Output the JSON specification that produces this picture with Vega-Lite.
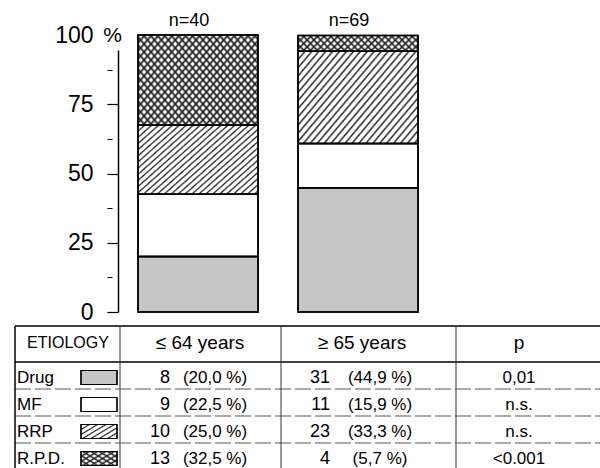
{
  "$schema": "https://vega.github.io/schema/vega-lite/v6.json",
  "width": 482,
  "height": 433,
  "autosize": {"type": "none"},
  "padding": {"left": 118, "top": 35, "right": 0, "bottom": 0},
  "background": "white",
  "config": {"view": {"stroke": null}, "font": "Liberation Sans"},
  "datasets": {
    "bars": [
      {"group": "n=40", "etiology": "Drug", "order": 1, "pct": 20.0},
      {"group": "n=40", "etiology": "MF", "order": 2, "pct": 22.5},
      {"group": "n=40", "etiology": "RRP", "order": 3, "pct": 25.0},
      {"group": "n=40", "etiology": "R.P.D.", "order": 4, "pct": 32.5},
      {"group": "n=69", "etiology": "Drug", "order": 1, "pct": 44.9},
      {"group": "n=69", "etiology": "MF", "order": 2, "pct": 15.9},
      {"group": "n=69", "etiology": "RRP", "order": 3, "pct": 33.3},
      {"group": "n=69", "etiology": "R.P.D.", "order": 4, "pct": 5.7}
    ],
    "table": [
      {"row": 1, "etiology": "Drug", "n64": "8", "pct64": "(20,0 %)", "n65": "31", "pct65": "(44,9 %)", "p": "0,01"},
      {"row": 2, "etiology": "MF", "n64": "9", "pct64": "(22,5 %)", "n65": "11", "pct65": "(15,9 %)", "p": "n.s."},
      {"row": 3, "etiology": "RRP", "n64": "10", "pct64": "(25,0 %)", "n65": "23", "pct65": "(33,3 %)", "p": "n.s."},
      {"row": 4, "etiology": "R.P.D.", "n64": "13", "pct64": "(32,5 %)", "n65": "4", "pct65": "(5,7 %)", "p": "<0.001"}
    ],
    "header": [
      {"col": 1, "text": "ETIOLOGY"},
      {"col": 2, "text": "≤ 64 years"},
      {"col": 3, "text": "≥ 65 years"},
      {"col": 4, "text": "p"}
    ]
  },
  "layer": [
    {
      "data": {"name": "bars"},
      "layer": [
        {
          "mark": {"type": "bar", "stroke": "black", "strokeWidth": 1.5},
          "encoding": {
            "x": {
              "field": "group", "type": "nominal",
              "scale": {"range": [20, 300], "paddingInner": 0.25, "paddingOuter": 0},
              "axis": {"orient": "top", "title": null, "domain": false, "ticks": false, "labelAngle": 0,
                       "labelFontSize": 18, "labelColor": "black", "labelPadding": 6, "labelOffset": -9}
            },
            "y": {
              "field": "pct", "type": "quantitative", "stack": "zero",
              "scale": {"domain": [0, 100], "range": [277, 0], "nice": false},
              "axis": {
                "values": [0, 12.5, 25, 37.5, 50, 62.5, 75, 87.5, 100],
                "labelExpr": "datum.value % 25 === 0 ? datum.label : ''",
                "grid": false,
                "domainColor": "black", "domainWidth": 1.5, "domainDash": [262, 1000],
                "tickColor": "black", "tickWidth": 1.2, "tickSize": 11,
                "tickDash": {"condition": {"test": "datum.value % 25 !== 0", "value": [0, 6, 5, 20]}, "value": []},
                "tickOpacity": {"condition": {"test": "datum.value === 100", "value": 0}, "value": 1},
                "labelFontSize": 23, "labelColor": "black", "labelPadding": 14,
                "title": "%", "titleAngle": 0, "titleX": -6, "titleY": 0, "titleAlign": "center",
                "titleBaseline": "middle", "titleFontSize": 21, "titleFontWeight": "normal", "titleColor": "black"
              }
            },
            "detail": {"field": "etiology"},
            "order": {"field": "order", "type": "quantitative"},
            "fill": {
              "condition": [
                {"test": "datum.etiology === 'RRP'", "value": {"gradient": "linear", "x1": 0, "y1": 0, "x2": 1.16, "y2": 0.754, "stops": [
                  {"offset": 0, "color": "#222"}, {"offset": 0.01, "color": "#fff"}, {"offset": 0.026, "color": "#fff"},
                  {"offset": 0.035, "color": "#222"}, {"offset": 0.045, "color": "#fff"}, {"offset": 0.061, "color": "#fff"},
                  {"offset": 0.07, "color": "#222"}, {"offset": 0.08, "color": "#fff"}, {"offset": 0.096, "color": "#fff"},
                  {"offset": 0.105, "color": "#222"}, {"offset": 0.115, "color": "#fff"}, {"offset": 0.131, "color": "#fff"},
                  {"offset": 0.14, "color": "#222"}, {"offset": 0.15, "color": "#fff"}, {"offset": 0.166, "color": "#fff"},
                  {"offset": 0.175, "color": "#222"}, {"offset": 0.185, "color": "#fff"}, {"offset": 0.201, "color": "#fff"},
                  {"offset": 0.21, "color": "#222"}, {"offset": 0.22, "color": "#fff"}, {"offset": 0.236, "color": "#fff"},
                  {"offset": 0.245, "color": "#222"}, {"offset": 0.255, "color": "#fff"}, {"offset": 0.271, "color": "#fff"},
                  {"offset": 0.28, "color": "#222"}, {"offset": 0.29, "color": "#fff"}, {"offset": 0.306, "color": "#fff"},
                  {"offset": 0.315, "color": "#222"}, {"offset": 0.325, "color": "#fff"}, {"offset": 0.341, "color": "#fff"},
                  {"offset": 0.35, "color": "#222"}, {"offset": 0.36, "color": "#fff"}, {"offset": 0.376, "color": "#fff"},
                  {"offset": 0.385, "color": "#222"}, {"offset": 0.395, "color": "#fff"}, {"offset": 0.411, "color": "#fff"},
                  {"offset": 0.42, "color": "#222"}, {"offset": 0.43, "color": "#fff"}, {"offset": 0.446, "color": "#fff"},
                  {"offset": 0.455, "color": "#222"}, {"offset": 0.465, "color": "#fff"}, {"offset": 0.481, "color": "#fff"},
                  {"offset": 0.49, "color": "#222"}, {"offset": 0.5, "color": "#fff"}, {"offset": 0.516, "color": "#fff"},
                  {"offset": 0.525, "color": "#222"}, {"offset": 0.535, "color": "#fff"}, {"offset": 0.551, "color": "#fff"},
                  {"offset": 0.56, "color": "#222"}, {"offset": 0.57, "color": "#fff"}, {"offset": 0.586, "color": "#fff"},
                  {"offset": 0.595, "color": "#222"}, {"offset": 0.605, "color": "#fff"}, {"offset": 0.621, "color": "#fff"},
                  {"offset": 0.63, "color": "#222"}, {"offset": 0.64, "color": "#fff"}, {"offset": 0.656, "color": "#fff"},
                  {"offset": 0.665, "color": "#222"}, {"offset": 0.675, "color": "#fff"}, {"offset": 0.691, "color": "#fff"},
                  {"offset": 0.7, "color": "#222"}, {"offset": 0.71, "color": "#fff"}, {"offset": 0.726, "color": "#fff"},
                  {"offset": 0.735, "color": "#222"}, {"offset": 0.745, "color": "#fff"}, {"offset": 0.761, "color": "#fff"},
                  {"offset": 0.77, "color": "#222"}, {"offset": 0.78, "color": "#fff"}, {"offset": 0.796, "color": "#fff"},
                  {"offset": 0.805, "color": "#222"}, {"offset": 0.815, "color": "#fff"}, {"offset": 0.831, "color": "#fff"},
                  {"offset": 0.84, "color": "#222"}, {"offset": 0.85, "color": "#fff"}, {"offset": 0.866, "color": "#fff"},
                  {"offset": 0.875, "color": "#222"}, {"offset": 0.885, "color": "#fff"}, {"offset": 0.901, "color": "#fff"},
                  {"offset": 0.91, "color": "#222"}, {"offset": 0.92, "color": "#fff"}, {"offset": 0.936, "color": "#fff"},
                  {"offset": 0.945, "color": "#222"}, {"offset": 0.955, "color": "#fff"}, {"offset": 0.971, "color": "#fff"},
                  {"offset": 0.98, "color": "#222"}, {"offset": 0.99, "color": "#fff"}, {"offset": 1, "color": "#fff"}
                ]}},
                {"test": "datum.etiology === 'R.P.D.' && datum.group === 'n=40'", "value": {"gradient": "linear", "x1": 0, "y1": 0, "x2": 1.16, "y2": 0.754, "stops": [
                  {"offset": 0, "color": "#222"}, {"offset": 0.012, "color": "#fff"}, {"offset": 0.023, "color": "#fff"},
                  {"offset": 0.035, "color": "#222"}, {"offset": 0.047, "color": "#fff"}, {"offset": 0.058, "color": "#fff"},
                  {"offset": 0.07, "color": "#222"}, {"offset": 0.082, "color": "#fff"}, {"offset": 0.093, "color": "#fff"},
                  {"offset": 0.105, "color": "#222"}, {"offset": 0.117, "color": "#fff"}, {"offset": 0.128, "color": "#fff"},
                  {"offset": 0.14, "color": "#222"}, {"offset": 0.152, "color": "#fff"}, {"offset": 0.163, "color": "#fff"},
                  {"offset": 0.175, "color": "#222"}, {"offset": 0.187, "color": "#fff"}, {"offset": 0.198, "color": "#fff"},
                  {"offset": 0.21, "color": "#222"}, {"offset": 0.222, "color": "#fff"}, {"offset": 0.233, "color": "#fff"},
                  {"offset": 0.245, "color": "#222"}, {"offset": 0.257, "color": "#fff"}, {"offset": 0.268, "color": "#fff"},
                  {"offset": 0.28, "color": "#222"}, {"offset": 0.292, "color": "#fff"}, {"offset": 0.303, "color": "#fff"},
                  {"offset": 0.315, "color": "#222"}, {"offset": 0.327, "color": "#fff"}, {"offset": 0.338, "color": "#fff"},
                  {"offset": 0.35, "color": "#222"}, {"offset": 0.362, "color": "#fff"}, {"offset": 0.373, "color": "#fff"},
                  {"offset": 0.385, "color": "#222"}, {"offset": 0.397, "color": "#fff"}, {"offset": 0.408, "color": "#fff"},
                  {"offset": 0.42, "color": "#222"}, {"offset": 0.432, "color": "#fff"}, {"offset": 0.443, "color": "#fff"},
                  {"offset": 0.455, "color": "#222"}, {"offset": 0.467, "color": "#fff"}, {"offset": 0.478, "color": "#fff"},
                  {"offset": 0.49, "color": "#222"}, {"offset": 0.502, "color": "#fff"}, {"offset": 0.513, "color": "#fff"},
                  {"offset": 0.525, "color": "#222"}, {"offset": 0.537, "color": "#fff"}, {"offset": 0.548, "color": "#fff"},
                  {"offset": 0.56, "color": "#222"}, {"offset": 0.572, "color": "#fff"}, {"offset": 0.583, "color": "#fff"},
                  {"offset": 0.595, "color": "#222"}, {"offset": 0.607, "color": "#fff"}, {"offset": 0.618, "color": "#fff"},
                  {"offset": 0.63, "color": "#222"}, {"offset": 0.642, "color": "#fff"}, {"offset": 0.653, "color": "#fff"},
                  {"offset": 0.665, "color": "#222"}, {"offset": 0.677, "color": "#fff"}, {"offset": 0.688, "color": "#fff"},
                  {"offset": 0.7, "color": "#222"}, {"offset": 0.712, "color": "#fff"}, {"offset": 0.723, "color": "#fff"},
                  {"offset": 0.735, "color": "#222"}, {"offset": 0.747, "color": "#fff"}, {"offset": 0.758, "color": "#fff"},
                  {"offset": 0.77, "color": "#222"}, {"offset": 0.782, "color": "#fff"}, {"offset": 0.793, "color": "#fff"},
                  {"offset": 0.805, "color": "#222"}, {"offset": 0.817, "color": "#fff"}, {"offset": 0.828, "color": "#fff"},
                  {"offset": 0.84, "color": "#222"}, {"offset": 0.852, "color": "#fff"}, {"offset": 0.863, "color": "#fff"},
                  {"offset": 0.875, "color": "#222"}, {"offset": 0.887, "color": "#fff"}, {"offset": 0.898, "color": "#fff"},
                  {"offset": 0.91, "color": "#222"}, {"offset": 0.922, "color": "#fff"}, {"offset": 0.933, "color": "#fff"},
                  {"offset": 0.945, "color": "#222"}, {"offset": 0.957, "color": "#fff"}, {"offset": 0.968, "color": "#fff"},
                  {"offset": 0.98, "color": "#222"}, {"offset": 0.992, "color": "#fff"}, {"offset": 1, "color": "#fff"}
                ]}},
                {"test": "datum.etiology === 'R.P.D.'", "value": {"gradient": "linear", "x1": 0, "y1": 0, "x2": 1.111, "y2": 0.1445, "stops": [
                  {"offset": 0, "color": "#222"}, {"offset": 0.017, "color": "#fff"}, {"offset": 0.033, "color": "#fff"},
                  {"offset": 0.05, "color": "#222"}, {"offset": 0.067, "color": "#fff"}, {"offset": 0.083, "color": "#fff"},
                  {"offset": 0.1, "color": "#222"}, {"offset": 0.117, "color": "#fff"}, {"offset": 0.133, "color": "#fff"},
                  {"offset": 0.15, "color": "#222"}, {"offset": 0.167, "color": "#fff"}, {"offset": 0.183, "color": "#fff"},
                  {"offset": 0.2, "color": "#222"}, {"offset": 0.217, "color": "#fff"}, {"offset": 0.233, "color": "#fff"},
                  {"offset": 0.25, "color": "#222"}, {"offset": 0.267, "color": "#fff"}, {"offset": 0.283, "color": "#fff"},
                  {"offset": 0.3, "color": "#222"}, {"offset": 0.317, "color": "#fff"}, {"offset": 0.333, "color": "#fff"},
                  {"offset": 0.35, "color": "#222"}, {"offset": 0.367, "color": "#fff"}, {"offset": 0.383, "color": "#fff"},
                  {"offset": 0.4, "color": "#222"}, {"offset": 0.417, "color": "#fff"}, {"offset": 0.433, "color": "#fff"},
                  {"offset": 0.45, "color": "#222"}, {"offset": 0.467, "color": "#fff"}, {"offset": 0.483, "color": "#fff"},
                  {"offset": 0.5, "color": "#222"}, {"offset": 0.517, "color": "#fff"}, {"offset": 0.533, "color": "#fff"},
                  {"offset": 0.55, "color": "#222"}, {"offset": 0.567, "color": "#fff"}, {"offset": 0.583, "color": "#fff"},
                  {"offset": 0.6, "color": "#222"}, {"offset": 0.617, "color": "#fff"}, {"offset": 0.633, "color": "#fff"},
                  {"offset": 0.65, "color": "#222"}, {"offset": 0.667, "color": "#fff"}, {"offset": 0.683, "color": "#fff"},
                  {"offset": 0.7, "color": "#222"}, {"offset": 0.717, "color": "#fff"}, {"offset": 0.733, "color": "#fff"},
                  {"offset": 0.75, "color": "#222"}, {"offset": 0.767, "color": "#fff"}, {"offset": 0.783, "color": "#fff"},
                  {"offset": 0.8, "color": "#222"}, {"offset": 0.817, "color": "#fff"}, {"offset": 0.833, "color": "#fff"},
                  {"offset": 0.85, "color": "#222"}, {"offset": 0.867, "color": "#fff"}, {"offset": 0.883, "color": "#fff"},
                  {"offset": 0.9, "color": "#222"}, {"offset": 0.917, "color": "#fff"}, {"offset": 0.933, "color": "#fff"},
                  {"offset": 0.95, "color": "#222"}, {"offset": 0.967, "color": "#fff"}, {"offset": 0.983, "color": "#fff"},
                  {"offset": 1, "color": "#222"}
                ]}},
                {"test": "datum.etiology === 'MF'", "value": "#ffffff"}
              ],
              "value": "#c6c6c6"
            }
          }
        },
        {
          "mark": {"type": "bar", "stroke": "black", "strokeWidth": 1.5},
          "encoding": {
            "x": {"field": "group", "type": "nominal"},
            "y": {"field": "pct", "type": "quantitative", "stack": "zero"},
            "detail": {"field": "etiology"},
            "order": {"field": "order", "type": "quantitative"},
            "fill": {
              "condition": [
                {"test": "datum.etiology === 'R.P.D.' && datum.group === 'n=40'", "value": {"gradient": "linear", "x1": 0, "y1": 1, "x2": 1.16, "y2": 0.246, "stops": [
                  {"offset": 0, "color": "#222"}, {"offset": 0.012, "color": "rgba(34,34,34,0)"}, {"offset": 0.023, "color": "rgba(34,34,34,0)"},
                  {"offset": 0.035, "color": "#222"}, {"offset": 0.047, "color": "rgba(34,34,34,0)"}, {"offset": 0.058, "color": "rgba(34,34,34,0)"},
                  {"offset": 0.07, "color": "#222"}, {"offset": 0.082, "color": "rgba(34,34,34,0)"}, {"offset": 0.093, "color": "rgba(34,34,34,0)"},
                  {"offset": 0.105, "color": "#222"}, {"offset": 0.117, "color": "rgba(34,34,34,0)"}, {"offset": 0.128, "color": "rgba(34,34,34,0)"},
                  {"offset": 0.14, "color": "#222"}, {"offset": 0.152, "color": "rgba(34,34,34,0)"}, {"offset": 0.163, "color": "rgba(34,34,34,0)"},
                  {"offset": 0.175, "color": "#222"}, {"offset": 0.187, "color": "rgba(34,34,34,0)"}, {"offset": 0.198, "color": "rgba(34,34,34,0)"},
                  {"offset": 0.21, "color": "#222"}, {"offset": 0.222, "color": "rgba(34,34,34,0)"}, {"offset": 0.233, "color": "rgba(34,34,34,0)"},
                  {"offset": 0.245, "color": "#222"}, {"offset": 0.257, "color": "rgba(34,34,34,0)"}, {"offset": 0.268, "color": "rgba(34,34,34,0)"},
                  {"offset": 0.28, "color": "#222"}, {"offset": 0.292, "color": "rgba(34,34,34,0)"}, {"offset": 0.303, "color": "rgba(34,34,34,0)"},
                  {"offset": 0.315, "color": "#222"}, {"offset": 0.327, "color": "rgba(34,34,34,0)"}, {"offset": 0.338, "color": "rgba(34,34,34,0)"},
                  {"offset": 0.35, "color": "#222"}, {"offset": 0.362, "color": "rgba(34,34,34,0)"}, {"offset": 0.373, "color": "rgba(34,34,34,0)"},
                  {"offset": 0.385, "color": "#222"}, {"offset": 0.397, "color": "rgba(34,34,34,0)"}, {"offset": 0.408, "color": "rgba(34,34,34,0)"},
                  {"offset": 0.42, "color": "#222"}, {"offset": 0.432, "color": "rgba(34,34,34,0)"}, {"offset": 0.443, "color": "rgba(34,34,34,0)"},
                  {"offset": 0.455, "color": "#222"}, {"offset": 0.467, "color": "rgba(34,34,34,0)"}, {"offset": 0.478, "color": "rgba(34,34,34,0)"},
                  {"offset": 0.49, "color": "#222"}, {"offset": 0.502, "color": "rgba(34,34,34,0)"}, {"offset": 0.513, "color": "rgba(34,34,34,0)"},
                  {"offset": 0.525, "color": "#222"}, {"offset": 0.537, "color": "rgba(34,34,34,0)"}, {"offset": 0.548, "color": "rgba(34,34,34,0)"},
                  {"offset": 0.56, "color": "#222"}, {"offset": 0.572, "color": "rgba(34,34,34,0)"}, {"offset": 0.583, "color": "rgba(34,34,34,0)"},
                  {"offset": 0.595, "color": "#222"}, {"offset": 0.607, "color": "rgba(34,34,34,0)"}, {"offset": 0.618, "color": "rgba(34,34,34,0)"},
                  {"offset": 0.63, "color": "#222"}, {"offset": 0.642, "color": "rgba(34,34,34,0)"}, {"offset": 0.653, "color": "rgba(34,34,34,0)"},
                  {"offset": 0.665, "color": "#222"}, {"offset": 0.677, "color": "rgba(34,34,34,0)"}, {"offset": 0.688, "color": "rgba(34,34,34,0)"},
                  {"offset": 0.7, "color": "#222"}, {"offset": 0.712, "color": "rgba(34,34,34,0)"}, {"offset": 0.723, "color": "rgba(34,34,34,0)"},
                  {"offset": 0.735, "color": "#222"}, {"offset": 0.747, "color": "rgba(34,34,34,0)"}, {"offset": 0.758, "color": "rgba(34,34,34,0)"},
                  {"offset": 0.77, "color": "#222"}, {"offset": 0.782, "color": "rgba(34,34,34,0)"}, {"offset": 0.793, "color": "rgba(34,34,34,0)"},
                  {"offset": 0.805, "color": "#222"}, {"offset": 0.817, "color": "rgba(34,34,34,0)"}, {"offset": 0.828, "color": "rgba(34,34,34,0)"},
                  {"offset": 0.84, "color": "#222"}, {"offset": 0.852, "color": "rgba(34,34,34,0)"}, {"offset": 0.863, "color": "rgba(34,34,34,0)"},
                  {"offset": 0.875, "color": "#222"}, {"offset": 0.887, "color": "rgba(34,34,34,0)"}, {"offset": 0.898, "color": "rgba(34,34,34,0)"},
                  {"offset": 0.91, "color": "#222"}, {"offset": 0.922, "color": "rgba(34,34,34,0)"}, {"offset": 0.933, "color": "rgba(34,34,34,0)"},
                  {"offset": 0.945, "color": "#222"}, {"offset": 0.957, "color": "rgba(34,34,34,0)"}, {"offset": 0.968, "color": "rgba(34,34,34,0)"},
                  {"offset": 0.98, "color": "#222"}, {"offset": 0.992, "color": "rgba(34,34,34,0)"}, {"offset": 1, "color": "rgba(34,34,34,0)"}
                ]}},
                {"test": "datum.etiology === 'R.P.D.'", "value": {"gradient": "linear", "x1": 0, "y1": 1, "x2": 1.111, "y2": 0.8555, "stops": [
                  {"offset": 0, "color": "#222"}, {"offset": 0.017, "color": "rgba(34,34,34,0)"}, {"offset": 0.033, "color": "rgba(34,34,34,0)"},
                  {"offset": 0.05, "color": "#222"}, {"offset": 0.067, "color": "rgba(34,34,34,0)"}, {"offset": 0.083, "color": "rgba(34,34,34,0)"},
                  {"offset": 0.1, "color": "#222"}, {"offset": 0.117, "color": "rgba(34,34,34,0)"}, {"offset": 0.133, "color": "rgba(34,34,34,0)"},
                  {"offset": 0.15, "color": "#222"}, {"offset": 0.167, "color": "rgba(34,34,34,0)"}, {"offset": 0.183, "color": "rgba(34,34,34,0)"},
                  {"offset": 0.2, "color": "#222"}, {"offset": 0.217, "color": "rgba(34,34,34,0)"}, {"offset": 0.233, "color": "rgba(34,34,34,0)"},
                  {"offset": 0.25, "color": "#222"}, {"offset": 0.267, "color": "rgba(34,34,34,0)"}, {"offset": 0.283, "color": "rgba(34,34,34,0)"},
                  {"offset": 0.3, "color": "#222"}, {"offset": 0.317, "color": "rgba(34,34,34,0)"}, {"offset": 0.333, "color": "rgba(34,34,34,0)"},
                  {"offset": 0.35, "color": "#222"}, {"offset": 0.367, "color": "rgba(34,34,34,0)"}, {"offset": 0.383, "color": "rgba(34,34,34,0)"},
                  {"offset": 0.4, "color": "#222"}, {"offset": 0.417, "color": "rgba(34,34,34,0)"}, {"offset": 0.433, "color": "rgba(34,34,34,0)"},
                  {"offset": 0.45, "color": "#222"}, {"offset": 0.467, "color": "rgba(34,34,34,0)"}, {"offset": 0.483, "color": "rgba(34,34,34,0)"},
                  {"offset": 0.5, "color": "#222"}, {"offset": 0.517, "color": "rgba(34,34,34,0)"}, {"offset": 0.533, "color": "rgba(34,34,34,0)"},
                  {"offset": 0.55, "color": "#222"}, {"offset": 0.567, "color": "rgba(34,34,34,0)"}, {"offset": 0.583, "color": "rgba(34,34,34,0)"},
                  {"offset": 0.6, "color": "#222"}, {"offset": 0.617, "color": "rgba(34,34,34,0)"}, {"offset": 0.633, "color": "rgba(34,34,34,0)"},
                  {"offset": 0.65, "color": "#222"}, {"offset": 0.667, "color": "rgba(34,34,34,0)"}, {"offset": 0.683, "color": "rgba(34,34,34,0)"},
                  {"offset": 0.7, "color": "#222"}, {"offset": 0.717, "color": "rgba(34,34,34,0)"}, {"offset": 0.733, "color": "rgba(34,34,34,0)"},
                  {"offset": 0.75, "color": "#222"}, {"offset": 0.767, "color": "rgba(34,34,34,0)"}, {"offset": 0.783, "color": "rgba(34,34,34,0)"},
                  {"offset": 0.8, "color": "#222"}, {"offset": 0.817, "color": "rgba(34,34,34,0)"}, {"offset": 0.833, "color": "rgba(34,34,34,0)"},
                  {"offset": 0.85, "color": "#222"}, {"offset": 0.867, "color": "rgba(34,34,34,0)"}, {"offset": 0.883, "color": "rgba(34,34,34,0)"},
                  {"offset": 0.9, "color": "#222"}, {"offset": 0.917, "color": "rgba(34,34,34,0)"}, {"offset": 0.933, "color": "rgba(34,34,34,0)"},
                  {"offset": 0.95, "color": "#222"}, {"offset": 0.967, "color": "rgba(34,34,34,0)"}, {"offset": 0.983, "color": "rgba(34,34,34,0)"},
                  {"offset": 1, "color": "#222"}
                ]}}
              ],
              "value": "transparent"
            }
          }
        }
      ]
    },
    {
      "layer": [
        {
          "data": {"values": [{}]},
          "mark": {"type": "rule", "color": "black", "strokeWidth": 1.5},
          "encoding": {
            "y": {"datum": -0.5, "type": "quantitative", "axis": null, "scale": {"type": "linear", "domain": [-0.5, 0, 0.5, 4.5], "range": [291, 308, 327, 435], "nice": false, "zero": false}},
            "x": {"datum": 0.5, "type": "quantitative", "axis": null, "scale": {"type": "linear", "domain": [0.5, 1, 1.5, 2, 2.5, 3, 3.5, 4, 4.5], "range": [-103, -50, 2, 82, 163, 244, 338, 401, 482], "nice": false, "zero": false}},
            "x2": {"datum": 4.5}
          }
        },
        {
          "data": {"values": [{}]},
          "mark": {"type": "rule", "color": "black", "strokeWidth": 1.5},
          "encoding": {
            "y": {"datum": 0.5, "type": "quantitative", "axis": null},
            "x": {"datum": 0.5, "type": "quantitative", "axis": null},
            "x2": {"datum": 4.5}
          }
        },
        {
          "data": {"values": [{}]},
          "mark": {"type": "rule", "color": "#555555", "strokeWidth": 1, "strokeDash": [16, 4]},
          "encoding": {
            "y": {"datum": 1.5, "type": "quantitative", "axis": null},
            "x": {"datum": 0.5, "type": "quantitative", "axis": null},
            "x2": {"datum": 4.5}
          }
        },
        {
          "data": {"values": [{}]},
          "mark": {"type": "rule", "color": "#555555", "strokeWidth": 1, "strokeDash": [16, 4]},
          "encoding": {
            "y": {"datum": 2.5, "type": "quantitative", "axis": null},
            "x": {"datum": 0.5, "type": "quantitative", "axis": null},
            "x2": {"datum": 4.5}
          }
        },
        {
          "data": {"values": [{}]},
          "mark": {"type": "rule", "color": "#555555", "strokeWidth": 1, "strokeDash": [16, 4]},
          "encoding": {
            "y": {"datum": 3.5, "type": "quantitative", "axis": null},
            "x": {"datum": 0.5, "type": "quantitative", "axis": null},
            "x2": {"datum": 4.5}
          }
        },
        {
          "data": {"values": [{}]},
          "mark": {"type": "rule", "color": "black", "strokeWidth": 1.5},
          "encoding": {
            "x": {"datum": 0.5, "type": "quantitative", "axis": null},
            "y": {"datum": -0.5, "type": "quantitative", "axis": null},
            "y2": {"datum": 4.5}
          }
        },
        {
          "data": {"values": [{}]},
          "mark": {"type": "rule", "color": "#333333", "strokeWidth": 1},
          "encoding": {
            "x": {"datum": 1.5, "type": "quantitative", "axis": null},
            "y": {"datum": -0.5, "type": "quantitative", "axis": null},
            "y2": {"datum": 4.5}
          }
        },
        {
          "data": {"values": [{}]},
          "mark": {"type": "rule", "color": "#333333", "strokeWidth": 1},
          "encoding": {
            "x": {"datum": 2.5, "type": "quantitative", "axis": null},
            "y": {"datum": -0.5, "type": "quantitative", "axis": null},
            "y2": {"datum": 4.5}
          }
        },
        {
          "data": {"values": [{}]},
          "mark": {"type": "rule", "color": "#333333", "strokeWidth": 1},
          "encoding": {
            "x": {"datum": 3.5, "type": "quantitative", "axis": null},
            "y": {"datum": -0.5, "type": "quantitative", "axis": null},
            "y2": {"datum": 4.5}
          }
        },
        {
          "data": {"name": "header"},
          "mark": {"type": "text", "baseline": "middle", "align": "center", "color": "black"},
          "encoding": {
            "x": {"field": "col", "type": "quantitative", "axis": null},
            "y": {"datum": 0, "type": "quantitative", "axis": null},
            "text": {"field": "text"},
            "size": {"condition": {"test": "datum.col === 1", "value": 16}, "value": 19}
          }
        },
        {
          "data": {"name": "table"},
          "mark": {"type": "text", "baseline": "middle", "align": "left", "dx": 2, "dy": 2, "fontSize": 17, "color": "black"},
          "encoding": {
            "x": {"datum": 0.5, "type": "quantitative", "axis": null},
            "y": {"field": "row", "type": "quantitative", "axis": null},
            "text": {"field": "etiology"}
          }
        },
        {
          "data": {"name": "table"},
          "mark": {"type": "point", "shape": "M-1,-0.39L1,-0.39L1,0.39L-1,0.39Z", "size": 1296, "filled": true, "opacity": 1, "stroke": "black", "strokeWidth": 1.2, "xOffset": -21, "yOffset": 2},
          "encoding": {
            "x": {"datum": 1.5, "type": "quantitative", "axis": null},
            "y": {"field": "row", "type": "quantitative", "axis": null},
            "fill": {
              "condition": [
                {"test": "datum.etiology === 'RRP'", "value": {"gradient": "linear", "x1": 0, "y1": 0, "x2": 1.16, "y2": 0.754, "stops": [
                  {"offset": 0, "color": "#222"}, {"offset": 0.04, "color": "#fff"}, {"offset": 0.104, "color": "#fff"},
                  {"offset": 0.14, "color": "#222"}, {"offset": 0.18, "color": "#fff"}, {"offset": 0.244, "color": "#fff"},
                  {"offset": 0.28, "color": "#222"}, {"offset": 0.32, "color": "#fff"}, {"offset": 0.384, "color": "#fff"},
                  {"offset": 0.42, "color": "#222"}, {"offset": 0.46, "color": "#fff"}, {"offset": 0.524, "color": "#fff"},
                  {"offset": 0.56, "color": "#222"}, {"offset": 0.6, "color": "#fff"}, {"offset": 0.664, "color": "#fff"},
                  {"offset": 0.7, "color": "#222"}, {"offset": 0.74, "color": "#fff"}, {"offset": 0.804, "color": "#fff"},
                  {"offset": 0.84, "color": "#222"}, {"offset": 0.88, "color": "#fff"}, {"offset": 0.944, "color": "#fff"},
                  {"offset": 0.98, "color": "#222"}, {"offset": 1, "color": "#fff"}
                ]}},
                {"test": "datum.etiology === 'R.P.D.'", "value": {"gradient": "linear", "x1": 0, "y1": 0, "x2": 1.16, "y2": 0.754, "stops": [
                  {"offset": 0, "color": "#222"}, {"offset": 0.048, "color": "#fff"}, {"offset": 0.092, "color": "#fff"},
                  {"offset": 0.14, "color": "#222"}, {"offset": 0.188, "color": "#fff"}, {"offset": 0.232, "color": "#fff"},
                  {"offset": 0.28, "color": "#222"}, {"offset": 0.328, "color": "#fff"}, {"offset": 0.372, "color": "#fff"},
                  {"offset": 0.42, "color": "#222"}, {"offset": 0.468, "color": "#fff"}, {"offset": 0.512, "color": "#fff"},
                  {"offset": 0.56, "color": "#222"}, {"offset": 0.608, "color": "#fff"}, {"offset": 0.652, "color": "#fff"},
                  {"offset": 0.7, "color": "#222"}, {"offset": 0.748, "color": "#fff"}, {"offset": 0.792, "color": "#fff"},
                  {"offset": 0.84, "color": "#222"}, {"offset": 0.888, "color": "#fff"}, {"offset": 0.932, "color": "#fff"},
                  {"offset": 0.98, "color": "#222"}, {"offset": 1, "color": "#fff"}
                ]}},
                {"test": "datum.etiology === 'MF'", "value": "#ffffff"}
              ],
              "value": "#c6c6c6"
            }
          }
        },
        {
          "data": {"name": "table"},
          "mark": {"type": "point", "shape": "M-1,-0.39L1,-0.39L1,0.39L-1,0.39Z", "size": 1296, "filled": true, "opacity": 1, "stroke": "black", "strokeWidth": 1.2, "xOffset": -21, "yOffset": 2},
          "encoding": {
            "x": {"datum": 1.5, "type": "quantitative", "axis": null},
            "y": {"field": "row", "type": "quantitative", "axis": null},
            "fill": {
              "condition": {"test": "datum.etiology === 'R.P.D.'", "value": {"gradient": "linear", "x1": 0, "y1": 1, "x2": 1.16, "y2": 0.246, "stops": [
                  {"offset": 0, "color": "#222"}, {"offset": 0.048, "color": "rgba(34,34,34,0)"}, {"offset": 0.092, "color": "rgba(34,34,34,0)"},
                  {"offset": 0.14, "color": "#222"}, {"offset": 0.188, "color": "rgba(34,34,34,0)"}, {"offset": 0.232, "color": "rgba(34,34,34,0)"},
                  {"offset": 0.28, "color": "#222"}, {"offset": 0.328, "color": "rgba(34,34,34,0)"}, {"offset": 0.372, "color": "rgba(34,34,34,0)"},
                  {"offset": 0.42, "color": "#222"}, {"offset": 0.468, "color": "rgba(34,34,34,0)"}, {"offset": 0.512, "color": "rgba(34,34,34,0)"},
                  {"offset": 0.56, "color": "#222"}, {"offset": 0.608, "color": "rgba(34,34,34,0)"}, {"offset": 0.652, "color": "rgba(34,34,34,0)"},
                  {"offset": 0.7, "color": "#222"}, {"offset": 0.748, "color": "rgba(34,34,34,0)"}, {"offset": 0.792, "color": "rgba(34,34,34,0)"},
                  {"offset": 0.84, "color": "#222"}, {"offset": 0.888, "color": "rgba(34,34,34,0)"}, {"offset": 0.932, "color": "rgba(34,34,34,0)"},
                  {"offset": 0.98, "color": "#222"}, {"offset": 1, "color": "rgba(34,34,34,0)"}
              ]}},
              "value": "transparent"
            }
          }
        },
        {
          "data": {"name": "table"},
          "mark": {"type": "text", "baseline": "middle", "align": "right", "dx": -30, "dy": 2, "fontSize": 18, "color": "black"},
          "encoding": {
            "x": {"datum": 2, "type": "quantitative", "axis": null},
            "y": {"field": "row", "type": "quantitative", "axis": null},
            "text": {"field": "n64"}
          }
        },
        {
          "data": {"name": "table"},
          "mark": {"type": "text", "baseline": "middle", "align": "center", "dx": 15, "dy": 2, "fontSize": 17, "color": "black"},
          "encoding": {
            "x": {"datum": 2, "type": "quantitative", "axis": null},
            "y": {"field": "row", "type": "quantitative", "axis": null},
            "text": {"field": "pct64"}
          }
        },
        {
          "data": {"name": "table"},
          "mark": {"type": "text", "baseline": "middle", "align": "right", "dx": -32, "dy": 2, "fontSize": 18, "color": "black"},
          "encoding": {
            "x": {"datum": 3, "type": "quantitative", "axis": null},
            "y": {"field": "row", "type": "quantitative", "axis": null},
            "text": {"field": "n65"}
          }
        },
        {
          "data": {"name": "table"},
          "mark": {"type": "text", "baseline": "middle", "align": "center", "dx": 18, "dy": 2, "fontSize": 17, "color": "black"},
          "encoding": {
            "x": {"datum": 3, "type": "quantitative", "axis": null},
            "y": {"field": "row", "type": "quantitative", "axis": null},
            "text": {"field": "pct65"}
          }
        },
        {
          "data": {"name": "table"},
          "mark": {"type": "text", "baseline": "middle", "align": "center", "dy": 2, "fontSize": 17, "color": "black"},
          "encoding": {
            "x": {"datum": 4, "type": "quantitative", "axis": null},
            "y": {"field": "row", "type": "quantitative", "axis": null},
            "text": {"field": "p"}
          }
        }
      ]
    }
  ],
  "resolve": {"scale": {"x": "independent", "y": "independent"}}
}
